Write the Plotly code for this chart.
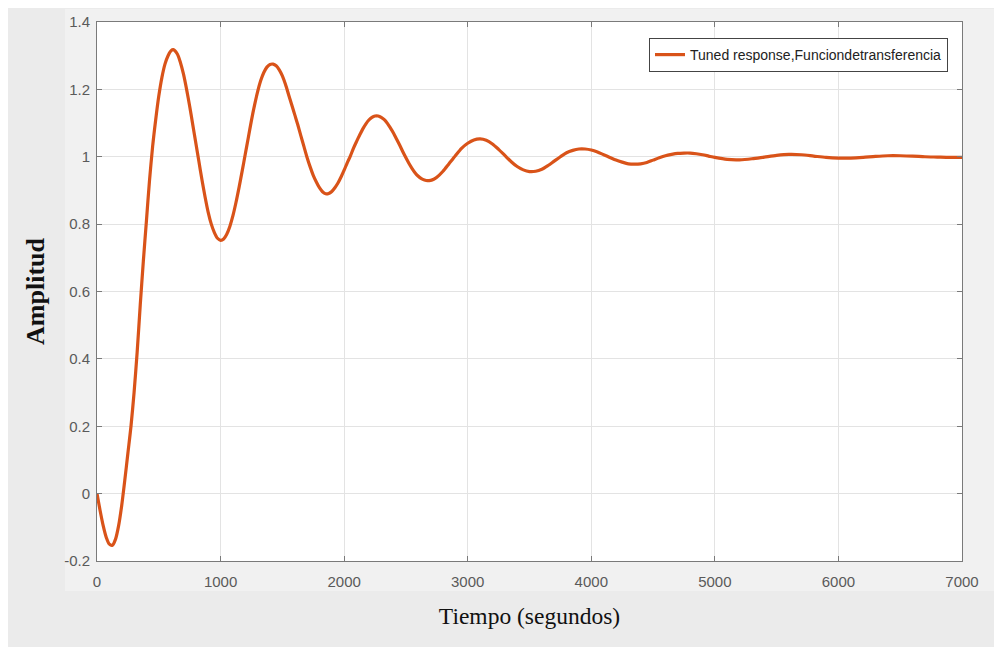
import plotly.graph_objects as go

# Data (time in s, amplitude)
tiempo = [0, 25, 50, 75, 100, 125, 150, 175, 200, 225, 250, 275, 300, 325, 350, 375,
          400, 425, 450, 475, 500, 525, 550, 575, 600, 617, 650, 675, 700, 725, 750,
          775, 800, 825, 850, 875, 900, 925, 950, 975, 1000, 1025, 1050, 1075, 1100,
          1125, 1150, 1175, 1200, 1225, 1250, 1275, 1300, 1325, 1350, 1375, 1400, 1425,
          1450, 1475, 1500, 1525, 1550, 1575, 1600, 1625, 1650, 1675, 1700, 1725, 1750,
          1775, 1800, 1825, 1850, 1875, 1900, 1925, 1950, 1975, 2000, 2025, 2050, 2075,
          2100, 2125, 2150, 2175, 2200, 2225, 2250, 2275, 2300, 2325, 2350, 2375, 2400,
          2425, 2450, 2475, 2500, 2525, 2550, 2575, 2600, 2625, 2650, 2675, 2700, 2725,
          2750, 2800, 2850, 2900, 2950, 3000, 3050, 3100, 3150, 3200, 3250, 3300, 3350,
          3400, 3450, 3500, 3550, 3600, 3650, 3700, 3750, 3800, 3850, 3900, 3950, 4000,
          4050, 4100, 4150, 4200, 4250, 4300, 4350, 4400, 4450, 4500, 4550, 4600, 4650,
          4700, 4750, 4800, 4850, 4900, 4950, 5000, 5100, 5200, 5300, 5400, 5500, 5600,
          5700, 5800, 5900, 6000, 6100, 6200, 6300, 6400, 6500, 6600, 6700, 6800, 6900,
          7000]
amplitud = [0.0, -0.05, -0.095, -0.13, -0.15, -0.153, -0.135, -0.095, -0.035, 0.04, 0.12,
            0.2, 0.3, 0.42, 0.56, 0.69, 0.81, 0.93, 1.03, 1.11, 1.18, 1.235, 1.275, 1.30,
            1.315, 1.318, 1.305, 1.28, 1.245, 1.20, 1.15, 1.095, 1.04, 0.985, 0.93, 0.88,
            0.835, 0.80, 0.775, 0.758, 0.752, 0.756, 0.77, 0.793, 0.825, 0.865, 0.91, 0.958,
            1.008, 1.058, 1.108, 1.153, 1.193, 1.226, 1.25, 1.266, 1.274, 1.275, 1.27,
            1.258, 1.24, 1.215, 1.185, 1.155, 1.125, 1.095, 1.062, 1.03, 0.998, 0.97, 0.945,
            0.925, 0.908, 0.896, 0.89, 0.891, 0.897, 0.908, 0.922, 0.94, 0.96, 0.982, 1.002,
            1.025, 1.045, 1.064, 1.082, 1.097, 1.109, 1.117, 1.121, 1.121, 1.117, 1.11,
            1.099, 1.085, 1.07, 1.052, 1.034, 1.015, 0.997, 0.98, 0.965, 0.952, 0.942,
            0.935, 0.931, 0.929, 0.93, 0.933, 0.939, 0.957, 0.98, 1.003, 1.025, 1.04, 1.05,
            1.053, 1.049, 1.038, 1.022, 1.004, 0.986, 0.971, 0.961, 0.956, 0.957, 0.963,
            0.974, 0.987, 1.0, 1.012, 1.019, 1.023, 1.023, 1.02, 1.014, 1.006, 0.998, 0.99,
            0.984, 0.979, 0.978, 0.979, 0.983, 0.99, 0.997, 1.003, 1.007, 1.01, 1.011,
            1.011, 1.009, 1.006, 1.002, 0.998, 0.992, 0.991, 0.994, 0.999, 1.004, 1.007,
            1.006, 1.002, 0.998, 0.996, 0.996, 0.998, 1.001, 1.003, 1.003, 1.002, 1.0,
            0.999, 0.998, 0.998]

x_ticks = [0, 1000, 2000, 3000, 4000, 5000, 6000, 7000]
x_ticktext = ["0", "1000", "2000", "3000", "4000", "5000", "6000", "7000"]
y_ticks = [-0.2, 0, 0.2, 0.4, 0.6, 0.8, 1.0, 1.2, 1.4]
y_ticktext = ["-0.2", "0", "0.2", "0.4", "0.6", "0.8", "1", "1.2", "1.4"]

serie = "Tuned response,Funciondetransferencia"
x_title = "Tiempo (segundos)"
y_title = "Amplitud"

# page offset of the figure (browser body margin)
OFF = 8
W, H = 1002 - OFF, 647 - OFF
# plot area in page pixels: left 97, right 962, top 22, bottom 561
L, R, T, B = 97 - OFF, 1002 - 962, 22 - OFF, 647 - 561
PW, PH = W - L - R, H - T - B


def px2x(px):
    return (px - 97) / PW


def py2y(py):
    return (561 - py) / PH


fig = go.Figure()
fig.add_trace(go.Scatter(
    x=tiempo, y=amplitud, mode="lines", name=serie,
    line=dict(color="#D95319", width=3.2, shape="spline", smoothing=0.8),
))

axis_common = dict(
    showline=True, linecolor="#7a7a7a", linewidth=1, mirror="ticks",
    ticks="inside", ticklen=5, tickcolor="#7a7a7a",
    showgrid=True, gridcolor="#e3e3e3", gridwidth=1, zeroline=False,
    tickfont=dict(family="Arial, Liberation Sans, sans-serif", size=15, color="#5a5a5a"),
)

fig.update_xaxes(range=[0, 7000], tickvals=x_ticks, ticktext=x_ticktext,
                 ticklabelstandoff=7,
                 title=dict(text=x_title, standoff=18,
                            font=dict(family="Liberation Serif, Times New Roman, serif",
                                      size=23.5, color="#111111")),
                 **axis_common)
fig.update_yaxes(range=[-0.2, 1.4], tickvals=y_ticks, ticktext=y_ticktext,
                 ticklabelstandoff=3,
                 title=dict(text="<b>" + y_title + "</b>", standoff=12,
                            font=dict(family="Liberation Serif, Times New Roman, serif",
                                      size=26, color="#111111")),
                 **axis_common)

shapes = [
    # lighter inner area
    dict(type="rect", xref="paper", yref="paper", x0=px2x(65), x1=px2x(1000), y0=py2y(591), y1=py2y(9),
         fillcolor="#f1f1f1", line=dict(width=0), layer="below"),
    # white plot area
    dict(type="rect", xref="paper", yref="paper", x0=0, x1=1, y0=0, y1=1,
         fillcolor="white", line=dict(width=0), layer="below"),
]

fig.update_layout(
    width=W, height=H,
    margin=dict(l=L, r=R, t=T, b=B, autoexpand=False),
    paper_bgcolor="#ebebeb", plot_bgcolor="white",
    shapes=shapes,
    showlegend=True,
    legend=dict(x=px2x(948), y=py2y(38), xanchor="right", yanchor="top",
                bgcolor="white", bordercolor="#444444", borderwidth=1,
                font=dict(family="Arial, Liberation Sans, sans-serif", size=14, color="#222222"),
                itemwidth=30, tracegroupgap=0),
)

fig.write_html("out.html")
